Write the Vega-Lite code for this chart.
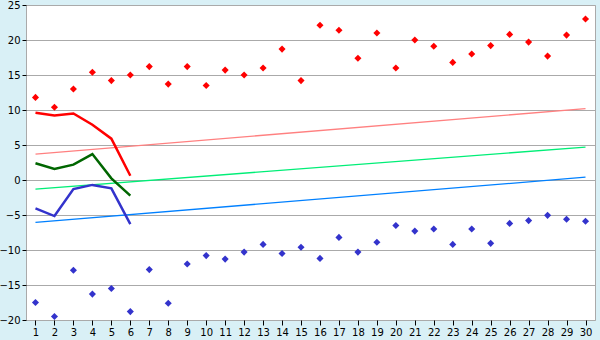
{
  "$schema": "https://vega.github.io/schema/vega-lite/v6.json",
  "autosize": "none",
  "width": 569,
  "height": 315,
  "padding": {"left": 26, "top": 5, "right": 5, "bottom": 20},
  "background": "#d9f0f6",
  "config": {
    "view": {"fill": "#ffffff", "stroke": "#aaaaaa", "strokeWidth": 1},
    "axis": {"labelFont": "DejaVu Sans", "labelFontSize": 10, "labelColor": "#000000", "title": null, "domainColor": "#aaaaaa", "tickColor": "#000000", "labelOverlap": false}
  },
  "datasets": {
    "pts": [
      {"day": 1, "max": 11.8, "min": -17.5},
      {"day": 2, "max": 10.4, "min": -19.5},
      {"day": 3, "max": 13.0, "min": -12.9},
      {"day": 4, "max": 15.4, "min": -16.3},
      {"day": 5, "max": 14.2, "min": -15.5},
      {"day": 6, "max": 15.0, "min": -18.8},
      {"day": 7, "max": 16.2, "min": -12.8},
      {"day": 8, "max": 13.7, "min": -17.6},
      {"day": 9, "max": 16.2, "min": -12.0},
      {"day": 10, "max": 13.5, "min": -10.8},
      {"day": 11, "max": 15.7, "min": -11.3},
      {"day": 12, "max": 15.0, "min": -10.3},
      {"day": 13, "max": 16.0, "min": -9.2},
      {"day": 14, "max": 18.7, "min": -10.5},
      {"day": 15, "max": 14.2, "min": -9.6},
      {"day": 16, "max": 22.1, "min": -11.2},
      {"day": 17, "max": 21.4, "min": -8.2},
      {"day": 18, "max": 17.4, "min": -10.3},
      {"day": 19, "max": 21.0, "min": -8.9},
      {"day": 20, "max": 16.0, "min": -6.5},
      {"day": 21, "max": 20.0, "min": -7.3},
      {"day": 22, "max": 19.1, "min": -7.0},
      {"day": 23, "max": 16.8, "min": -9.2},
      {"day": 24, "max": 18.0, "min": -7.0},
      {"day": 25, "max": 19.2, "min": -9.05},
      {"day": 26, "max": 20.8, "min": -6.2},
      {"day": 27, "max": 19.7, "min": -5.8},
      {"day": 28, "max": 17.7, "min": -5.05},
      {"day": 29, "max": 20.7, "min": -5.6},
      {"day": 30, "max": 23.0, "min": -5.9}
    ],
    "trend": [
      {"day": 1, "hi": 3.7, "mid": -1.3, "lo": -6.05},
      {"day": 30, "hi": 10.2, "mid": 4.7, "lo": 0.4}
    ],
    "recent": [
      {"day": 1, "hi": 9.6, "mid": 2.4, "lo": -4.05},
      {"day": 2, "hi": 9.2, "mid": 1.57, "lo": -5.15},
      {"day": 3, "hi": 9.5, "mid": 2.2, "lo": -1.3},
      {"day": 4, "hi": 7.9, "mid": 3.7, "lo": -0.7},
      {"day": 5, "hi": 5.9, "mid": 0.24, "lo": -1.19},
      {"day": 6, "hi": 0.6, "mid": -2.24, "lo": -6.3}
    ]
  },
  "encoding": {
    "x": {"field": "day", "type": "quantitative", "scale": {"domain": [0.5, 30.5], "nice": false, "zero": false},
      "axis": {"values": [1,2,3,4,5,6,7,8,9,10,11,12,13,14,15,16,17,18,19,20,21,22,23,24,25,26,27,28,29,30], "grid": false, "tickSize": 5, "labelPadding": 2, "domain": false}},
    "y": {"field": "value", "type": "quantitative", "scale": {"domain": [-20, 25], "nice": false, "zero": false},
      "axis": {"values": [-20,-15,-10,-5,0,5,10,15,20,25], "grid": true, "gridColor": "#aaaaaa", "gridOpacity": 1, "tickSize": 4, "labelPadding": 2, "domain": false}}
  },
  "layer": [
    {
      "data": {"name": "pts"},
      "transform": [{"fold": ["max"], "as": ["k", "value"]}],
      "mark": {"type": "point", "shape": "diamond", "filled": true, "size": 50, "color": "#ff0000", "opacity": 1}
    },
    {
      "data": {"name": "pts"},
      "transform": [{"fold": ["min"], "as": ["k", "value"]}],
      "mark": {"type": "point", "shape": "diamond", "filled": true, "size": 50, "color": "#3333cc", "opacity": 1}
    },
    {
      "data": {"name": "trend"},
      "transform": [{"fold": ["hi"], "as": ["k", "value"]}],
      "mark": {"type": "line", "color": "#ff8080", "strokeWidth": 1.3}
    },
    {
      "data": {"name": "trend"},
      "transform": [{"fold": ["mid"], "as": ["k", "value"]}],
      "mark": {"type": "line", "color": "#00ee77", "strokeWidth": 1.3}
    },
    {
      "data": {"name": "trend"},
      "transform": [{"fold": ["lo"], "as": ["k", "value"]}],
      "mark": {"type": "line", "color": "#0080ff", "strokeWidth": 1.3}
    },
    {
      "data": {"name": "recent"},
      "transform": [{"fold": ["hi"], "as": ["k", "value"]}],
      "mark": {"type": "line", "color": "#ff0000", "strokeWidth": 2.5}
    },
    {
      "data": {"name": "recent"},
      "transform": [{"fold": ["mid"], "as": ["k", "value"]}],
      "mark": {"type": "line", "color": "#006600", "strokeWidth": 2.5}
    },
    {
      "data": {"name": "recent"},
      "transform": [{"fold": ["lo"], "as": ["k", "value"]}],
      "mark": {"type": "line", "color": "#3333cc", "strokeWidth": 2.5}
    }
  ]
}
